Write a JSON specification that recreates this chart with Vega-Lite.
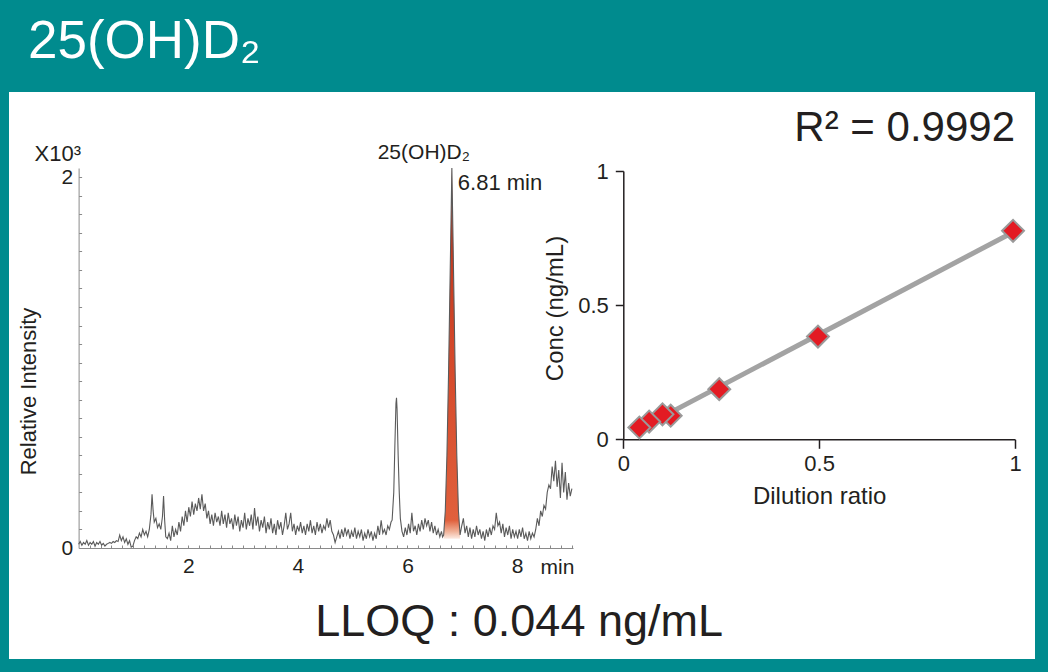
{
  "$schema": "https://vega.github.io/schema/vega-lite/v6.json",
  "width": 1026,
  "height": 567,
  "autosize": {"type": "none"},
  "padding": {"left": 9, "top": 92, "right": 13, "bottom": 13},
  "background": "#008B8E",
  "view": {"fill": "white", "stroke": null},
  "config": {
    "font": "Liberation Sans",
    "axis": {"grid": false, "labelColor": "#231f20", "titleColor": "#231f20", "labelFont": "Liberation Sans", "titleFont": "Liberation Sans", "titleFontWeight": "normal", "labelFlush": false, "labelOverlap": false}
  },
  "title": {"text": "25(OH)D₂", "anchor": "start", "frame": "group", "color": "white", "fontSize": 53, "fontWeight": "normal", "font": "Liberation Sans", "dx": 19, "offset": -19, "baseline": "alphabetic"},
  "datasets": {
    "trace": [
      {"t":0.00,"i":0.02},{"t":0.03,"i":0.035},{"t":0.06,"i":0.015},{"t":0.09,"i":0.03},{"t":0.12,"i":0.02},{"t":0.15,"i":0.04},{"t":0.18,"i":0.015},{"t":0.21,"i":0.03},{"t":0.24,"i":0.02},{"t":0.27,"i":0.035},
      {"t":0.30,"i":0.01},{"t":0.33,"i":0.03},{"t":0.36,"i":0.02},{"t":0.39,"i":0.035},{"t":0.42,"i":0.015},{"t":0.45,"i":0.025},{"t":0.48,"i":0.01},{"t":0.51,"i":0.02},{"t":0.54,"i":0.025},{"t":0.57,"i":0.03},
      {"t":0.60,"i":0.025},{"t":0.63,"i":0.035},{"t":0.66,"i":0.03},{"t":0.69,"i":0.04},{"t":0.72,"i":0.035},{"t":0.75,"i":0.07},{"t":0.78,"i":0.04},{"t":0.81,"i":0.06},{"t":0.84,"i":0.03},{"t":0.87,"i":0.05},
      {"t":0.90,"i":0.02},{"t":0.93,"i":0.04},{"t":0.96,"i":0.005},{"t":0.99,"i":0.01},{"t":1.02,"i":0.04},{"t":1.05,"i":0.06},{"t":1.08,"i":0.05},{"t":1.11,"i":0.08},{"t":1.14,"i":0.06},{"t":1.17,"i":0.1},
      {"t":1.20,"i":0.07},{"t":1.23,"i":0.09},{"t":1.26,"i":0.06},{"t":1.29,"i":0.1},{"t":1.32,"i":0.18},{"t":1.34,"i":0.29},{"t":1.36,"i":0.2},{"t":1.38,"i":0.14},{"t":1.41,"i":0.16},{"t":1.44,"i":0.11},
      {"t":1.47,"i":0.13},{"t":1.50,"i":0.1},{"t":1.53,"i":0.17},{"t":1.55,"i":0.28},{"t":1.57,"i":0.15},{"t":1.59,"i":0.06},{"t":1.62,"i":0.05},{"t":1.65,"i":0.08},{"t":1.68,"i":0.04},{"t":1.71,"i":0.12},
      {"t":1.74,"i":0.06},{"t":1.77,"i":0.1},{"t":1.80,"i":0.07},{"t":1.83,"i":0.14},{"t":1.86,"i":0.09},{"t":1.89,"i":0.17},{"t":1.92,"i":0.12},{"t":1.95,"i":0.2},{"t":1.98,"i":0.14},{"t":2.01,"i":0.22},
      {"t":2.04,"i":0.17},{"t":2.07,"i":0.25},{"t":2.10,"i":0.18},{"t":2.13,"i":0.24},{"t":2.16,"i":0.2},{"t":2.19,"i":0.27},{"t":2.22,"i":0.21},{"t":2.25,"i":0.29},{"t":2.28,"i":0.2},{"t":2.31,"i":0.24},
      {"t":2.34,"i":0.16},{"t":2.37,"i":0.2},{"t":2.40,"i":0.13},{"t":2.43,"i":0.18},{"t":2.46,"i":0.12},{"t":2.49,"i":0.19},{"t":2.52,"i":0.14},{"t":2.55,"i":0.17},{"t":2.58,"i":0.12},{"t":2.61,"i":0.2},
      {"t":2.64,"i":0.13},{"t":2.67,"i":0.18},{"t":2.70,"i":0.11},{"t":2.73,"i":0.19},{"t":2.76,"i":0.13},{"t":2.79,"i":0.16},{"t":2.82,"i":0.1},{"t":2.85,"i":0.18},{"t":2.88,"i":0.12},{"t":2.91,"i":0.17},
      {"t":2.94,"i":0.09},{"t":2.97,"i":0.15},{"t":3.00,"i":0.11},{"t":3.03,"i":0.19},{"t":3.06,"i":0.1},{"t":3.09,"i":0.16},{"t":3.12,"i":0.12},{"t":3.15,"i":0.18},{"t":3.18,"i":0.1},{"t":3.21,"i":0.215},
      {"t":3.24,"i":0.12},{"t":3.27,"i":0.17},{"t":3.30,"i":0.09},{"t":3.33,"i":0.15},{"t":3.36,"i":0.11},{"t":3.39,"i":0.17},{"t":3.42,"i":0.08},{"t":3.45,"i":0.14},{"t":3.48,"i":0.1},{"t":3.51,"i":0.16},
      {"t":3.54,"i":0.08},{"t":3.57,"i":0.13},{"t":3.60,"i":0.07},{"t":3.63,"i":0.15},{"t":3.66,"i":0.1},{"t":3.69,"i":0.14},{"t":3.72,"i":0.07},{"t":3.75,"i":0.12},{"t":3.78,"i":0.19},{"t":3.81,"i":0.1},
      {"t":3.84,"i":0.13},{"t":3.87,"i":0.19},{"t":3.90,"i":0.09},{"t":3.93,"i":0.13},{"t":3.96,"i":0.07},{"t":3.99,"i":0.12},{"t":4.02,"i":0.09},{"t":4.05,"i":0.14},{"t":4.08,"i":0.08},{"t":4.11,"i":0.12},
      {"t":4.14,"i":0.07},{"t":4.17,"i":0.13},{"t":4.20,"i":0.09},{"t":4.23,"i":0.15},{"t":4.26,"i":0.08},{"t":4.29,"i":0.12},{"t":4.32,"i":0.07},{"t":4.35,"i":0.14},{"t":4.38,"i":0.09},{"t":4.41,"i":0.13},
      {"t":4.44,"i":0.08},{"t":4.47,"i":0.12},{"t":4.50,"i":0.1},{"t":4.53,"i":0.16},{"t":4.56,"i":0.11},{"t":4.59,"i":0.15},{"t":4.62,"i":0.09},{"t":4.65,"i":0.07},{"t":4.68,"i":0.03},{"t":4.71,"i":0.06},
      {"t":4.74,"i":0.09},{"t":4.77,"i":0.05},{"t":4.80,"i":0.1},{"t":4.83,"i":0.06},{"t":4.86,"i":0.11},{"t":4.89,"i":0.07},{"t":4.92,"i":0.1},{"t":4.95,"i":0.05},{"t":4.98,"i":0.09},{"t":5.01,"i":0.06},
      {"t":5.04,"i":0.11},{"t":5.07,"i":0.05},{"t":5.10,"i":0.09},{"t":5.13,"i":0.06},{"t":5.16,"i":0.1},{"t":5.19,"i":0.04},{"t":5.22,"i":0.08},{"t":5.25,"i":0.05},{"t":5.28,"i":0.1},{"t":5.31,"i":0.06},
      {"t":5.34,"i":0.09},{"t":5.37,"i":0.04},{"t":5.40,"i":0.08},{"t":5.43,"i":0.05},{"t":5.46,"i":0.12},{"t":5.49,"i":0.07},{"t":5.52,"i":0.15},{"t":5.55,"i":0.08},{"t":5.58,"i":0.1},{"t":5.61,"i":0.07},
      {"t":5.64,"i":0.12},{"t":5.67,"i":0.1},{"t":5.70,"i":0.14},{"t":5.72,"i":0.15},{"t":5.75,"i":0.3},{"t":5.77,"i":0.55},{"t":5.79,"i":0.78},{"t":5.80,"i":0.81},{"t":5.81,"i":0.75},{"t":5.83,"i":0.5},
      {"t":5.85,"i":0.3},{"t":5.87,"i":0.16},{"t":5.90,"i":0.09},{"t":5.93,"i":0.06},{"t":5.96,"i":0.11},{"t":5.99,"i":0.07},{"t":6.02,"i":0.13},{"t":6.05,"i":0.08},{"t":6.08,"i":0.19},{"t":6.11,"i":0.09},
      {"t":6.14,"i":0.12},{"t":6.17,"i":0.07},{"t":6.20,"i":0.13},{"t":6.23,"i":0.09},{"t":6.26,"i":0.15},{"t":6.29,"i":0.1},{"t":6.32,"i":0.16},{"t":6.35,"i":0.12},{"t":6.38,"i":0.15},{"t":6.41,"i":0.09},
      {"t":6.44,"i":0.14},{"t":6.47,"i":0.08},{"t":6.50,"i":0.12},{"t":6.53,"i":0.07},{"t":6.56,"i":0.1},{"t":6.59,"i":0.06},{"t":6.62,"i":0.09},{"t":6.64,"i":0.06},
      {"t":6.66,"i":0.07},{"t":6.69,"i":0.2},{"t":6.72,"i":0.5},{"t":6.75,"i":0.95},{"t":6.78,"i":1.5},{"t":6.81,"i":2.05},{"t":6.84,"i":1.5},{"t":6.87,"i":0.95},{"t":6.90,"i":0.5},{"t":6.93,"i":0.2},{"t":6.96,"i":0.07},
      {"t":6.99,"i":0.12},{"t":7.02,"i":0.16},{"t":7.05,"i":0.08},{"t":7.08,"i":0.12},{"t":7.11,"i":0.06},{"t":7.14,"i":0.11},{"t":7.17,"i":0.05},{"t":7.20,"i":0.1},{"t":7.23,"i":0.06},{"t":7.26,"i":0.12},
      {"t":7.29,"i":0.07},{"t":7.32,"i":0.1},{"t":7.35,"i":0.05},{"t":7.38,"i":0.09},{"t":7.41,"i":0.04},{"t":7.44,"i":0.1},{"t":7.47,"i":0.06},{"t":7.50,"i":0.11},{"t":7.53,"i":0.07},{"t":7.56,"i":0.12},
      {"t":7.59,"i":0.1},{"t":7.62,"i":0.19},{"t":7.65,"i":0.12},{"t":7.68,"i":0.14},{"t":7.71,"i":0.08},{"t":7.74,"i":0.13},{"t":7.77,"i":0.06},{"t":7.80,"i":0.11},{"t":7.83,"i":0.07},{"t":7.86,"i":0.12},
      {"t":7.89,"i":0.05},{"t":7.92,"i":0.1},{"t":7.95,"i":0.06},{"t":7.98,"i":0.09},{"t":8.01,"i":0.05},{"t":8.04,"i":0.1},{"t":8.07,"i":0.06},{"t":8.10,"i":0.11},{"t":8.13,"i":0.05},{"t":8.16,"i":0.08},
      {"t":8.19,"i":0.04},{"t":8.22,"i":0.09},{"t":8.25,"i":0.05},{"t":8.28,"i":0.08},{"t":8.31,"i":0.06},{"t":8.34,"i":0.1},{"t":8.37,"i":0.16},{"t":8.40,"i":0.12},{"t":8.43,"i":0.2},{"t":8.46,"i":0.17},
      {"t":8.49,"i":0.23},{"t":8.52,"i":0.21},{"t":8.55,"i":0.3},{"t":8.58,"i":0.34},{"t":8.61,"i":0.32},{"t":8.64,"i":0.44},{"t":8.67,"i":0.36},{"t":8.70,"i":0.47},{"t":8.73,"i":0.33},{"t":8.76,"i":0.42},
      {"t":8.79,"i":0.27},{"t":8.82,"i":0.46},{"t":8.85,"i":0.3},{"t":8.88,"i":0.41},{"t":8.91,"i":0.26},{"t":8.94,"i":0.35},{"t":8.97,"i":0.28},{"t":9.00,"i":0.32}
    ],
    "points": [
      {"dil":0.995,"conc":0.777},{"dil":0.497,"conc":0.383},{"dil":0.245,"conc":0.187},{"dil":0.121,"conc":0.088},{"dil":0.1,"conc":0.093},{"dil":0.066,"conc":0.066},{"dil":0.041,"conc":0.044}
    ]
  },
  "layer": [
    {
      "data": {"name": "trace"},
      "transform": [{"filter": "datum.t >= 6.66 && datum.t <= 6.96"}],
      "mark": {"type": "area", "color": {"gradient": "linear", "x1": 0, "y1": 0, "x2": 0, "y2": 1, "stops": [{"offset": 0, "color": "#b52e18"}, {"offset": 0.5, "color": "#d4482a"}, {"offset": 0.95, "color": "#e0603c"}, {"offset": 0.98, "color": "#f0b096"}, {"offset": 1, "color": "#fcebe3"}]}},
      "encoding": {
        "x": {"field": "t", "type": "quantitative", "scale": {"domain": [0, 9.02], "range": [69.6, 564], "nice": false, "zero": false},
              "axis": {"orient": "bottom", "offset": -111, "values": [0.2,0.4,0.6,0.8,1,1.2,1.4,1.6,1.8,2,2.2,2.4,2.6,2.8,3,3.2,3.4,3.6,3.8,4,4.2,4.4,4.6,4.8,5,5.2,5.4,5.6,5.8,6,6.2,6.4,6.6,6.8,7,7.2,7.4,7.6,7.8,8,8.2,8.4,8.6,8.8,9], "labels": false, "domain": false, "tickSize": -3, "tickColor": "#8a8a8a", "title": null}},
        "y": {"field": "i", "type": "quantitative", "scale": {"domain": [0, 2.05], "range": [456, 76], "nice": false, "zero": false},
              "axis": {"orient": "left", "offset": -69.6, "values": [0.1,0.2,0.3,0.4,0.5,0.6,0.7,0.8,0.9,1,1.1,1.2,1.3,1.4,1.5,1.6,1.7,1.8,1.9,2], "labels": false, "domain": false, "tickSize": -3, "tickColor": "#8a8a8a",
                       "title": "X10³", "titleAngle": 0, "titleX": 2, "titleY": 61, "titleAlign": "right", "titleBaseline": "middle", "titleFontSize": 22}},
        "y2": {"datum": 0.05}
      }
    },
    {
      "data": {"name": "trace"},
      "mark": {"type": "line", "color": "#5a5a5a", "strokeWidth": 1.1},
      "encoding": {
        "x": {"field": "t", "type": "quantitative", "scale": {"domain": [0, 9.02], "range": [69.6, 564], "nice": false, "zero": false},
              "axis": {"orient": "bottom", "offset": -111, "values": [2, 4, 6, 8], "format": "d", "ticks": false, "domainColor": "#8a8a8a", "labelFontSize": 21, "labelPadding": 7,
                       "title": "min", "titleX": 548, "titleY": 19, "titleAlign": "center", "titleBaseline": "middle", "titleFontSize": 21}},
        "y": {"field": "i", "type": "quantitative", "scale": {"domain": [0, 2.05], "range": [456, 76], "nice": false, "zero": false},
              "axis": {"orient": "left", "offset": -69.6, "values": [0, 1, 2], "format": "d", "ticks": false, "domainColor": "#8a8a8a", "labelFontSize": 21, "labelPadding": 6,
                       "title": "Relative Intensity", "titleX": -50, "titleY": 299, "titleAngle": -90, "titleAlign": "center", "titleBaseline": "middle", "titleFontSize": 22}}
      }
    },
    {
      "data": {"values": [{"t": 6.81, "i": 2.0, "name": "25(OH)D₂", "rt": "6.81 min"}]},
      "mark": {"type": "text", "align": "right", "baseline": "middle", "dx": 18, "dy": -24, "fontSize": 21, "color": "#231f20"},
      "encoding": {
        "x": {"field": "t", "type": "quantitative", "scale": {"domain": [0, 9.02], "range": [69.6, 564], "nice": false, "zero": false}, "axis": null},
        "y": {"field": "i", "type": "quantitative", "scale": {"domain": [0, 2.05], "range": [456, 76], "nice": false, "zero": false}, "axis": null},
        "text": {"field": "name"}
      }
    },
    {
      "data": {"values": [{"t": 6.81, "i": 2.0, "name": "25(OH)D₂", "rt": "6.81 min"}]},
      "mark": {"type": "text", "align": "left", "baseline": "middle", "dx": 6, "dy": 6, "fontSize": 22, "color": "#231f20"},
      "encoding": {
        "x": {"field": "t", "type": "quantitative", "scale": {"domain": [0, 9.02], "range": [69.6, 564], "nice": false, "zero": false}, "axis": null},
        "y": {"field": "i", "type": "quantitative", "scale": {"domain": [0, 2.05], "range": [456, 76], "nice": false, "zero": false}, "axis": null},
        "text": {"field": "rt"}
      }
    },
    {
      "data": {"name": "points"},
      "transform": [{"regression": "conc", "on": "dil"}],
      "mark": {"type": "line", "color": "#a3a3a3", "strokeWidth": 5},
      "encoding": {
        "x": {"field": "dil", "type": "quantitative", "scale": {"domain": [0, 1], "range": [614.3, 1006], "nice": false, "zero": false},
              "axis": {"orient": "bottom", "offset": -219.7, "values": [0, 0.5, 1], "format": "~g", "tickSize": 9, "tickWidth": 1.5, "tickColor": "#231f20", "domainColor": "#231f20", "domainWidth": 1.5,
                       "labelFontSize": 22, "labelPadding": 5, "title": "Dilution ratio", "titleFontSize": 24, "titleY": 57, "titleBaseline": "middle"}},
        "y": {"field": "conc", "type": "quantitative", "scale": {"domain": [0, 1], "range": [347.3, 79], "nice": false, "zero": false},
              "axis": {"orient": "left", "offset": -614.3, "values": [0, 0.5, 1], "format": "~g", "tickSize": 8, "tickWidth": 1.5, "tickColor": "#231f20", "domainColor": "#231f20", "domainWidth": 1.5,
                       "labelFontSize": 22, "labelPadding": 7, "title": "Conc (ng/mL)", "titleFontSize": 24, "titleX": -68, "titleY": 216, "titleAngle": -90, "titleAlign": "center", "titleBaseline": "middle"}}
      }
    },
    {
      "data": {"name": "points"},
      "mark": {"type": "point", "shape": "diamond", "filled": true, "fill": "#e31b23", "stroke": "#9a9a9a", "strokeWidth": 2, "size": 480, "opacity": 1},
      "encoding": {
        "x": {"field": "dil", "type": "quantitative", "scale": {"domain": [0, 1], "range": [614.3, 1006], "nice": false, "zero": false}, "axis": null},
        "y": {"field": "conc", "type": "quantitative", "scale": {"domain": [0, 1], "range": [347.3, 79], "nice": false, "zero": false}, "axis": null}
      }
    },
    {
      "data": {"values": [{"label": "R² = 0.9992"}]},
      "mark": {"type": "text", "align": "right", "baseline": "middle", "fontSize": 42, "color": "#231f20"},
      "encoding": {
        "x": {"datum": 1, "type": "quantitative", "scale": {"domain": [0, 1], "range": [614.3, 1006], "nice": false, "zero": false}, "axis": null},
        "y": {"datum": 1.16, "type": "quantitative", "scale": {"domain": [0, 1], "range": [347.3, 79], "nice": false, "zero": false}, "axis": null},
        "text": {"field": "label"}
      }
    },
    {
      "data": {"values": [{"label": "LLOQ : 0.044 ng/mL"}]},
      "mark": {"type": "text", "align": "center", "baseline": "middle", "fontSize": 45, "color": "#231f20"},
      "encoding": {
        "x": {"datum": -0.266, "type": "quantitative", "scale": {"domain": [0, 1], "range": [614.3, 1006], "nice": false, "zero": false}, "axis": null},
        "y": {"datum": -0.681, "type": "quantitative", "scale": {"domain": [0, 1], "range": [347.3, 79], "nice": false, "zero": false}, "axis": null},
        "text": {"field": "label"}
      }
    }
  ],
  "resolve": {"scale": {"x": "independent", "y": "independent"}, "axis": {"x": "independent", "y": "independent"}}
}
